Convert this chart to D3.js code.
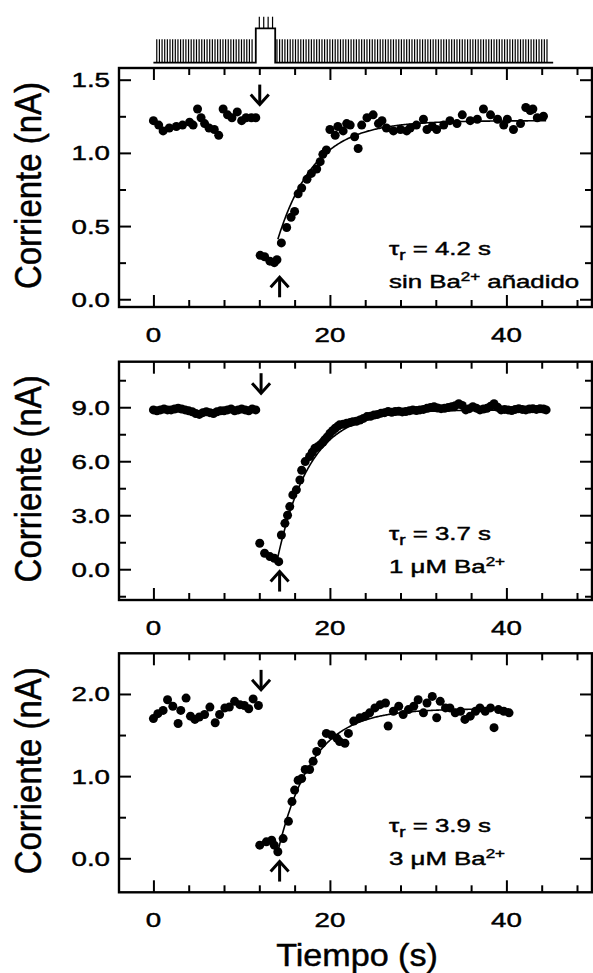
<!DOCTYPE html>
<html>
<head>
<meta charset="utf-8">
<script src="https://cdn.jsdelivr.net/npm/d3@7"></script>
<style>
body { margin: 0; background: #fff; }
svg { display: block; }
text { stroke: #000; stroke-width: 0.45px; }
</style>
</head>
<body>
<div id="chart"></div>
<script>
// ---- data ----
// tiempo (s) / corriente (nA), panel 1: sin Ba2+ añadido
const p1Time = [0, 0.6, 1.1, 1.8, 2.6, 3.3, 4.1, 4.5, 5.0, 5.4, 5.8, 6.3, 6.9, 7.4, 7.9, 8.4, 8.9, 9.5, 10.0, 10.5, 11.1, 11.6,
  12.1, 12.6, 13.2, 13.7, 14.0,
  14.5, 15.1, 15.6, 16.0, 16.4, 16.8, 17.4, 17.9, 18.5, 18.9, 19.2, 19.6, 20.0, 20.6, 20.9, 21.5, 21.9, 22.3, 22.8, 23.2, 23.6,
  24.2, 24.9, 25.5, 25.9, 26.4, 27.2, 28.0, 28.7, 29.1, 29.8, 30.6, 31.0, 31.6, 32.1, 32.9, 33.6, 34.4, 35.0, 35.9, 36.7,
  37.4, 38.2, 39.0, 39.7, 40.1, 40.8, 41.6, 42.2, 42.7, 43.0, 43.5, 44.2];
const p1Current = [1.22, 1.19, 1.15, 1.17, 1.18, 1.19, 1.21, 1.19, 1.30, 1.24, 1.20, 1.17, 1.16, 1.12, 1.30, 1.26, 1.24, 1.28, 1.22, 1.24, 1.24, 1.24,
  0.30, 0.29, 0.26, 0.25, 0.27,
  0.385, 0.49, 0.56, 0.60, 0.72, 0.76, 0.82, 0.86, 0.89, 0.94, 0.99, 1.02, 1.16, 1.12, 1.18, 1.15, 1.20, 1.19, 1.11, 1.03, 1.19,
  1.24, 1.26, 1.20, 1.22, 1.17, 1.15, 1.16, 1.15, 1.17, 1.19, 1.23, 1.16, 1.18, 1.16, 1.19, 1.22, 1.20, 1.26, 1.22, 1.23,
  1.30, 1.26, 1.23, 1.19, 1.23, 1.16, 1.20, 1.31, 1.29, 1.30, 1.24, 1.25];

// panel 2: 1 uM Ba2+
const p2Time = [0.0, 0.4, 0.8, 1.2, 1.6, 2.0, 2.4, 2.8, 3.2, 3.6, 4.0, 4.4, 4.8, 5.2, 5.6, 6.0, 6.4, 6.8, 7.2, 7.6, 8.0, 8.4, 8.8, 9.2, 9.6, 10.0, 10.4, 10.8, 11.2, 11.6,
  12.05, 12.6, 13.2, 13.7, 14.2,
  14.5, 14.9, 15.2, 15.45, 15.8, 16.2, 16.6, 16.8, 17.2, 17.7, 18.0, 18.3, 18.6, 18.9, 19.2, 19.4, 19.7, 20.0, 20.3, 20.6, 20.9, 21.1, 21.5, 21.9, 22.3, 22.6, 23.0, 23.4, 23.8,
  24.2, 24.6, 25.0, 25.4, 25.8, 26.2, 26.6, 27.0, 27.4, 27.8, 28.2, 28.6, 29.0, 29.4, 29.8, 30.2, 30.6, 31.0, 31.4, 31.8, 32.2, 32.6, 33.0, 33.4, 33.8, 34.2,
  34.6, 35.0, 35.4, 35.8, 36.2, 36.6, 37.0, 37.4, 37.8, 38.2, 38.6, 39.0, 39.4, 39.8, 40.2, 40.6, 41.0, 41.4, 41.8, 42.2, 42.6, 43.0, 43.4, 43.8, 44.2, 44.5];
const p2Current = [8.85, 8.8, 8.85, 8.9, 8.85, 8.85, 8.9, 8.95, 8.9, 8.85, 8.8, 8.75, 8.65, 8.6, 8.7, 8.75, 8.7, 8.65, 8.75, 8.8, 8.8, 8.85, 8.9, 8.8, 8.85, 8.9, 8.85, 8.8, 8.9, 8.85,
  1.44, 0.89, 0.70, 0.61, 0.42,
  1.9, 2.55, 3.0, 3.48, 4.13, 4.41, 4.96, 5.5, 5.98, 6.26, 6.5, 6.72, 6.8, 6.91, 7.05, 7.19, 7.35, 7.55, 7.7, 7.83, 7.95, 8.02, 8.05, 8.11, 8.15, 8.2, 8.22, 8.29, 8.38,
  8.48, 8.5, 8.57, 8.6, 8.67, 8.7, 8.76, 8.72, 8.76, 8.78, 8.74, 8.76, 8.8, 8.85, 8.82, 8.85, 8.88, 8.94, 8.98, 9.03, 8.96, 8.92, 8.94, 8.98, 9.03, 9.08,
  9.2, 9.1, 8.85, 8.92, 9.03, 8.95, 8.85, 8.9, 8.94, 9.05, 9.2, 9.0, 8.85, 8.88, 8.85, 8.82, 8.88, 8.92, 8.88, 8.85, 8.9, 8.92, 8.88, 8.92, 8.9, 8.85];

// panel 3: 3 uM Ba2+
const p3Time = [0, 0.5, 1.1, 1.6, 2.2, 2.8, 3.1, 3.7, 4.2, 4.7, 5.2, 5.8, 6.4, 7.0, 7.5, 8.1, 8.6, 9.2, 9.8, 10.3, 10.8, 11.3, 11.9,
  12.05, 12.8, 13.4, 13.7, 14.1,
  14.7, 15.3, 15.7, 16.0, 16.4, 16.8, 17.2, 17.7, 18.1, 18.5, 19.1, 19.6, 20.2, 20.8, 21.1, 21.7, 22.1, 22.7, 23.4, 24.0, 24.5, 25.1, 25.7, 26.3, 26.6,
  27.2, 27.8, 28.3, 28.9, 29.5, 30.0, 30.6, 31.0, 31.6, 32.1, 32.5, 33.1, 33.6, 34.2, 34.8, 35.3, 35.9, 36.5, 37.0, 37.6, 38.2, 38.6, 39.1, 39.7, 40.3];
const p3Current = [1.70, 1.76, 1.80, 1.93, 1.85, 1.64, 1.80, 1.95, 1.73, 1.69, 1.72, 1.75, 1.84, 1.65, 1.75, 1.83, 1.84, 1.91, 1.87, 1.86, 1.82, 1.94, 1.86,
  0.16, 0.20, 0.22, 0.16, 0.08,
  0.24, 0.45, 0.69, 0.83, 0.95, 0.97, 1.08, 1.08, 1.18, 1.30, 1.40, 1.52, 1.50, 1.46, 1.42, 1.40, 1.52, 1.67, 1.71, 1.73, 1.77, 1.83, 1.87, 1.89, 1.61,
  1.79, 1.85, 1.75, 1.81, 1.85, 1.93, 1.77, 1.89, 1.97, 1.71, 1.91, 1.83, 1.83, 1.77, 1.79, 1.69, 1.73, 1.79, 1.83, 1.79, 1.83, 1.59, 1.81, 1.79, 1.77];

// ajuste exponencial de la recuperación
const fitTau = [4.2, 3.7, 3.9];
const fitStart = [14.1, 14.0, 14.1];
const fitStartValue = [0.41, 0.45, 0.08];
const fitPlateau = [1.22, 8.85, 1.82];
const fitEnd = [44.5, 44.5, 40.3];

// ejes
const xDomain = [-3.9, 49.7];
const xMajor = [0, 20, 40];
const xMinor = [4, 8, 12, 16, 24, 28, 32, 36, 44, 48];
const yDomains = [[-0.053, 1.58], [-1.71, 11.53], [-0.414, 2.495]];
const yMajor = [[0, 0.5, 1.0, 1.5], [0, 3, 6, 9], [0, 1, 2]];
const yMinor = [[0.25, 0.75, 1.25], [-1.5, 1.5, 4.5, 7.5, 10.5], [0.5, 1.5]];

// flechas (tiempo, corriente de la punta)
const arrowDown = [[12.05, 1.33], [12.2, 9.78], [12.2, 2.05]];
const arrowUp = [[14.3, 0.15], [14.3, -0.13], [14.3, -0.04]];

// textos
const tauValues = ['4.2 s', '3.7 s', '3.9 s'];
const condPrefix = ['sin Ba', '1 \u03bcM Ba', '3 \u03bcM Ba'];
const condSuffix = [' añadido', '', ''];

// tren de estímulos
const trainSpan = [0, 45.3];
const pulseSegments = [[0.38, 11.3], [14.0, 44.8]];
const pulsePeriod = 0.3;
const stepSpan = [11.6, 13.8];
const stepPulses = [12.0, 12.5, 13.0, 13.5];

// ---- layout ----
const W = 593, H = 973;
const FONT = '"Liberation Sans", Arial, Helvetica, sans-serif';
const PLOT_LEFT = 119, PLOT_RIGHT = 592;
const PANEL_TOP = [68, 361.7, 653.3];
const PANEL_BOTTOM = [307, 600, 892.3];
const MAJOR_TICK = 12, MINOR_TICK = 7;

const svg = d3.select('#chart').append('svg')
    .attr('width', W)
    .attr('height', H)
    .style('font-family', FONT)
;

const x = d3.scaleLinear().domain(xDomain).range([PLOT_LEFT, PLOT_RIGHT]);

// tren de pulsos arriba
const TRAIN_BASE = 62.7, TRAIN_TOP = 39.3, STEP_TOP = 28.3, STEP_PULSE_TOP = 16.7;
const tg = svg.append('g').attr('stroke', '#000').attr('fill', 'none');
const tp = d3.path();
tp.moveTo(x(trainSpan[0]), TRAIN_BASE);
tp.lineTo(x(stepSpan[0]), TRAIN_BASE);
tp.lineTo(x(stepSpan[0]), STEP_TOP);
tp.lineTo(x(stepSpan[1]), STEP_TOP);
tp.lineTo(x(stepSpan[1]), TRAIN_BASE);
tp.lineTo(x(trainSpan[1]), TRAIN_BASE);
tg.append('path').attr('d', tp.toString()).attr('stroke-width', 1.8);
pulseSegments.forEach(seg => {
    const ts = d3.range(seg[0], seg[1] + 1e-6, pulsePeriod);
    tg.selectAll(null).data(ts).join('line')
        .attr('x1', d => x(d)).attr('x2', d => x(d))
        .attr('y1', TRAIN_BASE).attr('y2', TRAIN_TOP)
        .attr('stroke-width', 1.2);
});
tg.selectAll(null).data(stepPulses).join('line')
    .attr('x1', d => x(d)).attr('x2', d => x(d))
    .attr('y1', STEP_TOP).attr('y2', STEP_PULSE_TOP)
    .attr('stroke-width', 1.2);

const panels = [
    {time: p1Time, current: p1Current},
    {time: p2Time, current: p2Current},
    {time: p3Time, current: p3Current}
];

function drawArrow(g, px, py, dir) {
    // dir = 1 apunta hacia abajo, -1 hacia arriba
    const len = 20, hw = 9, hh = 10;
    g.append('line')
        .attr('x1', px).attr('x2', px)
        .attr('y1', py - dir * len).attr('y2', py - dir * 1)
        .attr('stroke', '#000').attr('stroke-width', 3);
    g.append('path')
        .attr('d', `M${px - hw},${py - dir * hh} L${px},${py} L${px + hw},${py - dir * hh}`)
        .attr('fill', 'none').attr('stroke', '#000').attr('stroke-width', 3);
}

panels.forEach((p, i) => {
    const top = PANEL_TOP[i], bottom = PANEL_BOTTOM[i];
    const y = d3.scaleLinear().domain(yDomains[i]).range([bottom, top]);
    const g = svg.append('g');

    // ticks (hacia adentro)
    const tickAxes = [
        [d3.axisBottom(x), `translate(0,${bottom})`, xMajor, xMinor],
        [d3.axisTop(x), `translate(0,${top})`, xMajor, xMinor],
        [d3.axisLeft(y), `translate(${PLOT_LEFT},0)`, yMajor[i], yMinor[i]],
        [d3.axisRight(y), `translate(${PLOT_RIGHT},0)`, yMajor[i], yMinor[i]]
    ];
    tickAxes.forEach(([axis, tr, major, minor]) => {
        g.append('g').attr('transform', tr)
            .call(axis.tickValues(major).tickSize(-MAJOR_TICK).tickFormat(''))
            .call(s => s.select('.domain').remove())
            .call(s => s.selectAll('line').attr('stroke-width', 2));
        g.append('g').attr('transform', tr)
            .call(axis.tickValues(minor).tickSize(-MINOR_TICK).tickFormat(''))
            .call(s => s.select('.domain').remove())
            .call(s => s.selectAll('line').attr('stroke-width', 2));
    });

    // marco
    g.append('rect')
        .attr('x', PLOT_LEFT).attr('y', top)
        .attr('width', PLOT_RIGHT - PLOT_LEFT).attr('height', bottom - top)
        .attr('fill', 'none').attr('stroke', '#000').attr('stroke-width', 2.4);

    // etiquetas eje y
    const fmt = d3.format('.1f');
    g.selectAll(null).data(yMajor[i]).join('text')
        .attr('transform', d => `translate(110,${y(d) + 7.5}) scale(1.32,1)`)
        .attr('text-anchor', 'end')
        .attr('font-size', 21)
        .text(d => fmt(d));

    // etiquetas eje x
    g.selectAll(null).data(xMajor).join('text')
        .attr('transform', d => `translate(${x(d)},${bottom + 35}) scale(1.32,1)`)
        .attr('text-anchor', 'middle')
        .attr('font-size', 21)
        .text(d => d);

    // titulo eje y
    g.append('text')
        .attr('transform', `translate(41,${(top + bottom) / 2 - 2}) rotate(-90) scale(1,1.1)`)
        .attr('text-anchor', 'middle')
        .attr('font-size', 33)
        .text('Corriente (nA)');

    // curva de ajuste
    const fitT = d3.range(fitStart[i], fitEnd[i] + 1e-6, 0.1);
    const fitLine = d3.line()
        .x(t => x(t))
        .y(t => y(fitPlateau[i] - (fitPlateau[i] - fitStartValue[i]) * Math.exp(-(t - fitStart[i]) / fitTau[i])));
    g.append('path')
        .attr('d', fitLine(fitT))
        .attr('fill', 'none').attr('stroke', '#000').attr('stroke-width', 1.6);

    // puntos
    g.selectAll(null).data(p.time).join('circle')
        .attr('cx', d => x(d))
        .attr('cy', (d, k) => y(p.current[k]))
        .attr('r', 4.5)
        .attr('fill', '#000');

    // flechas
    drawArrow(g, x(arrowDown[i][0]), y(arrowDown[i][1]), 1);
    drawArrow(g, x(arrowUp[i][0]), y(arrowUp[i][1]), -1);

    // anotaciones
    const tauY = [255, 540, 831.7][i];
    const t1 = g.append('text')
        .attr('transform', `translate(389,${tauY}) scale(1.36,1)`)
        .attr('font-size', 19);
    t1.append('tspan').text('\u03c4');
    t1.append('tspan').attr('dy', 5).attr('font-size', 14).text('r');
    t1.append('tspan').attr('dy', -5).text(' = ' + tauValues[i]);

    const t2 = g.append('text')
        .attr('transform', `translate(389,${tauY + 33}) scale(1.36,1)`)
        .attr('font-size', 19);
    t2.append('tspan').text(condPrefix[i]);
    t2.append('tspan').attr('dy', -7).attr('font-size', 12.5).text('2+');
    t2.append('tspan').attr('dy', 7).text(condSuffix[i]);
});

// titulo eje x
svg.append('text')
    .attr('transform', `translate(357,966) scale(1.1,1)`)
    .attr('text-anchor', 'middle')
    .attr('font-size', 31)
    .text('Tiempo (s)');
</script>
</body>
</html>
